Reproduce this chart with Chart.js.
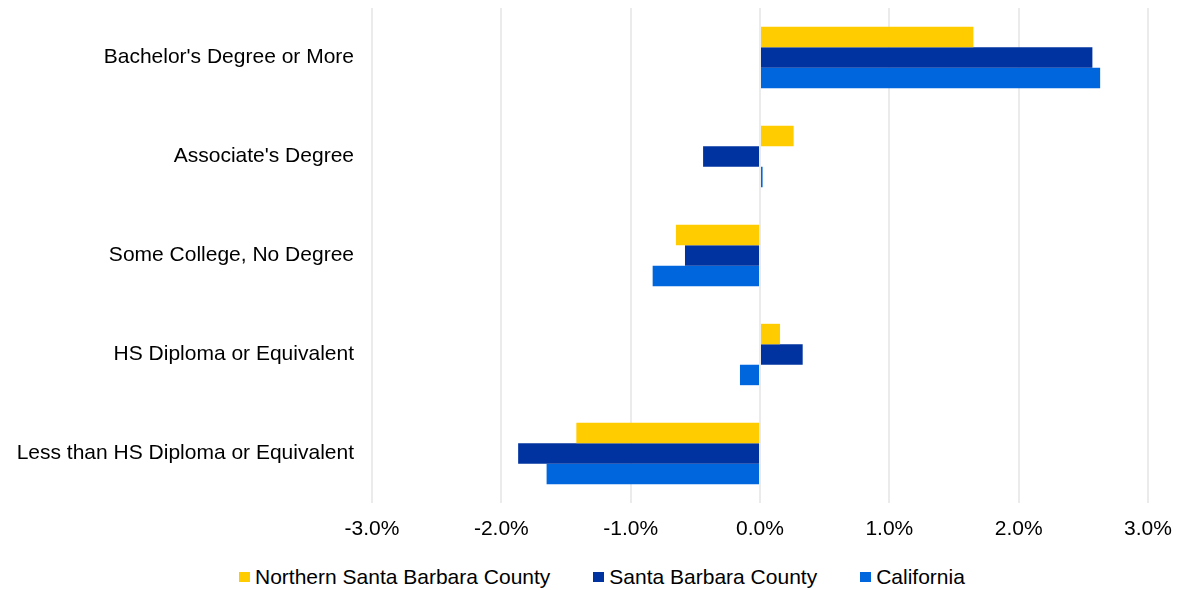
<!DOCTYPE html>
<html>
<head>
<meta charset="utf-8">
<script src="https://cdn.jsdelivr.net/npm/chart.js@4"></script>
<style>
  html, body { margin: 0; padding: 0; background: #fff; }
  body { position: relative; width: 1178px; height: 590px; overflow: hidden; }
  #wrap { position: absolute; left: 0; top: 0; width: 1178px; height: 544px; }
  #legend {
    position: absolute; left: 239px; top: 564px; height: 26px;
    display: flex; align-items: center;
    font-family: "Liberation Sans", Arial, sans-serif; font-size: 21px; color: #000;
  }
  #legend .item { display: flex; align-items: center; margin-right: 43px; white-space: nowrap; }
  #legend .box { display: inline-block; width: 11px; height: 10px; margin-right: 5px; }
</style>
</head>
<body>
<div id="wrap"><canvas id="eduChart"></canvas></div>
<div id="legend"></div>
<script>
const categories = [
    "Bachelor's Degree or More",
    "Associate's Degree",
    "Some College, No Degree",
    "HS Diploma or Equivalent",
    "Less than HS Diploma or Equivalent"
];
// change in share, percent
const northernSB = [1.65, 0.26, -0.65, 0.155, -1.42];
const santaBarbara = [2.57, -0.44, -0.58, 0.33, -1.87];
const california = [2.63, 0.02, -0.83, -0.155, -1.65];
const xTicks = [-3, -2, -1, 0, 1, 2, 3];

Chart.defaults.font.family = '"Liberation Sans", Arial, sans-serif';
Chart.defaults.color = '#000';

const ctx = document.getElementById('eduChart').getContext('2d');
const chart = new Chart(ctx, {
    type: 'bar',
    data: {
        labels: categories,
        datasets: [
            { label: 'Northern Santa Barbara County', data: northernSB, backgroundColor: '#FFCC00' },
            { label: 'Santa Barbara County', data: santaBarbara, backgroundColor: '#0033A0' },
            { label: 'California', data: california, backgroundColor: '#0066DD' }
        ]
    },
    options: {
        indexAxis: 'y',
        responsive: true,
        maintainAspectRatio: false,
        animation: false,
        layout: { padding: { top: 8, right: 30, left: 8, bottom: 1 } },
        datasets: { bar: { categoryPercentage: 0.62, barPercentage: 1.0 } },
        scales: {
            x: {
                min: xTicks[0],
                max: xTicks[xTicks.length - 1],
                afterBuildTicks: axis => { axis.ticks = xTicks.map(v => ({ value: v })); },
                afterFit: axis => { axis.height = 40; axis.paddingLeft = 0; axis.paddingRight = 0; },
                grid: { color: '#ebebeb', lineWidth: 2, drawTicks: false },
                border: { display: false },
                ticks: {
                    padding: 14,
                    font: { size: 21 },
                    callback: v => v.toFixed(1) + '%'
                }
            },
            y: {
                grid: { display: false, drawTicks: false },
                border: { display: false },
                afterFit: axis => { axis.width = 364; axis.paddingTop = 0; axis.paddingBottom = 0; },
                ticks: { padding: 18, font: { size: 21 } }
            }
        },
        plugins: {
            legend: { display: false },
            tooltip: { enabled: false }
        }
    }
});

// legend built from the chart's datasets
const legendEl = document.getElementById('legend');
chart.data.datasets.forEach(ds => {
    const item = document.createElement('span');
    item.className = 'item';
    const box = document.createElement('span');
    box.className = 'box';
    box.style.background = ds.backgroundColor;
    item.appendChild(box);
    item.appendChild(document.createTextNode(ds.label));
    legendEl.appendChild(item);
});
</script>
</body>
</html>
